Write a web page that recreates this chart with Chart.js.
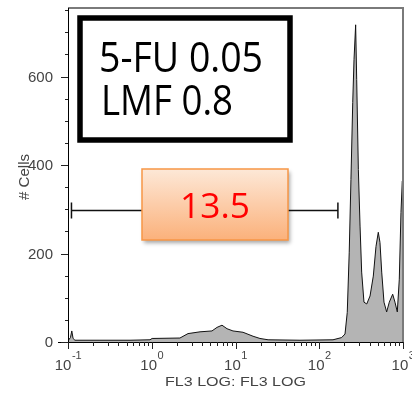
<!DOCTYPE html>
<html><head><meta charset="utf-8">
<script src="https://cdn.jsdelivr.net/npm/chart.js@4/dist/chart.umd.min.js"></script>
<style>html,body{margin:0;padding:0;background:#fff;}canvas{display:block;}</style>
</head><body>
<canvas id="c" width="412" height="394"></canvas>
<script>
// FL3 LOG channel values (x) and cell counts (y)
const fl3 = [0.1, 0.107, 0.111, 0.115, 0.121, 0.241, 0.55, 0.953, 1.01, 2.17, 2.71, 3.77, 5.24, 6.01, 6.9, 7.92, 9.33, 12.3, 16.2, 19.6, 24.5, 58.9, 146, 185, 203, 216, 228, 239, 251, 260, 272, 280, 293, 307, 321, 342, 369, 404, 442, 476, 507, 531, 557, 593, 638, 686, 753, 802, 855, 903, 946, 980, 1000];
const cells = [3, 10, 25, 8, 4, 4, 4, 5, 8, 9, 19, 23, 25, 33, 38, 30, 25, 22, 13, 8, 5, 4, 5, 10, 18, 67, 203, 367, 541, 638, 717, 593, 390, 262, 158, 90, 86, 104, 149, 216, 248, 225, 158, 90, 68, 90, 108, 90, 68, 142, 293, 363, 360];
const yTicks = [0, 200, 400, 600];
const yMinorStep = 50;
const yMax = 755;
const xDecades = [0.1, 1, 10, 100, 1000];
const xTickBase = ['10', '10', '10', '10', '10'];
const xTickExp = ['-1', '0', '1', '2', '3'];
const xTitle = 'FL3 LOG: FL3 LOG';
const yTitle = '# Cells';
const gateRange = [0.11, 167];
const gateLevel = 298;
const gateLabel = '13.5';
const sampleLines = ['5-FU 0.05', 'LMF 0.8'];

function fitText(ctx, txt, x, y, font, width, align) {
  ctx.save();
  ctx.font = font;
  const w = ctx.measureText(txt).width;
  const s = width ? width / w : 1;
  ctx.translate(x, y);
  ctx.scale(s, 1);
  let dx = 0;
  if (align === 'center') dx = -w / 2; else if (align === 'right') dx = -w;
  ctx.textAlign = 'left';
  ctx.fillText(txt, dx, 0);
  ctx.restore();
}

const decor = {
  id: 'decor',
  afterDatasetsDraw(chart) {
    const ctx = chart.ctx, xs = chart.scales.x, ys = chart.scales.y, a = chart.chartArea;
    ctx.save();
    // frame top & right
    ctx.strokeStyle = '#7a7a7a'; ctx.lineWidth = 2;
    ctx.beginPath(); ctx.moveTo(a.left, a.top); ctx.lineTo(a.right, a.top); ctx.lineTo(a.right, a.bottom); ctx.stroke();
    // axes
    ctx.strokeStyle = '#000'; ctx.lineWidth = 1;
    ctx.beginPath();
    ctx.moveTo(a.left + 0.5, a.top); ctx.lineTo(a.left + 0.5, a.bottom + 7);
    ctx.moveTo(a.left - 10, a.bottom + 0.5); ctx.lineTo(a.right, a.bottom + 0.5);
    ctx.stroke();
    // y ticks
    ctx.strokeStyle = '#222';
    ctx.beginPath();
    for (let v = 0; v <= yMax; v += yMinorStep) {
      const py = Math.round(ys.getPixelForValue(v)) + 0.5;
      const major = yTicks.includes(v);
      ctx.moveTo(a.left - (major ? 7 : 3), py); ctx.lineTo(a.left, py);
    }
    ctx.stroke();
    ctx.fillStyle = '#444'; ctx.textBaseline = 'middle';
    yTicks.forEach(v => {
      const py = ys.getPixelForValue(v);
      ctx.font = '15px "Liberation Sans", Arial, sans-serif';
      ctx.textAlign = 'right';
      ctx.fillText(String(v), a.left - 15, py + 1);
    });
    // x ticks
    ctx.beginPath();
    xDecades.forEach((d, i) => {
      const px = Math.round(xs.getPixelForValue(d)) + 0.5;
      ctx.moveTo(px, a.bottom); ctx.lineTo(px, a.bottom + 7);
      if (i < xDecades.length - 1) {
        for (let m = 2; m <= 9; m++) {
          const qx = Math.round(xs.getPixelForValue(d * m)) + 0.5;
          ctx.moveTo(qx, a.bottom); ctx.lineTo(qx, a.bottom + 4);
        }
      }
    });
    ctx.stroke();
    ctx.textBaseline = 'alphabetic';
    xDecades.forEach((d, i) => {
      const px = xs.getPixelForValue(d);
      ctx.font = '15px "Liberation Sans", Arial, sans-serif';
      const wb = ctx.measureText(xTickBase[i]).width;
      ctx.font = '11px "Liberation Sans", Arial, sans-serif';
      const we = ctx.measureText(xTickExp[i]).width;
      const x0 = px - (wb + we) / 2;
      ctx.font = '15px "Liberation Sans", Arial, sans-serif';
      ctx.textAlign = 'left';
      ctx.fillText(xTickBase[i], x0, 370);
      ctx.font = '11px "Liberation Sans", Arial, sans-serif';
      ctx.fillText(xTickExp[i], x0 + wb + 0.5, 359);
    });
    // axis titles
    ctx.fillStyle = '#444';
    fitText(ctx, xTitle, (a.left + a.right) / 2, 386, '13px "Liberation Sans", Arial, sans-serif', 141, 'center');
    ctx.save();
    ctx.translate(29, 177); ctx.rotate(-Math.PI / 2);
    fitText(ctx, yTitle, 0, 0, '14px "Liberation Sans", Arial, sans-serif', 46, 'center');
    ctx.restore();
    // gate
    const gy = Math.round(ys.getPixelForValue(gateLevel)) + 0.5;
    const g1 = xs.getPixelForValue(gateRange[0]), g2 = xs.getPixelForValue(gateRange[1]);
    ctx.strokeStyle = '#111'; ctx.lineWidth = 1.5;
    ctx.beginPath();
    ctx.moveTo(g1, gy); ctx.lineTo(g2, gy);
    ctx.moveTo(g1, gy - 8); ctx.lineTo(g1, gy + 8);
    ctx.moveTo(g2, gy - 8); ctx.lineTo(g2, gy + 8);
    ctx.stroke();
    // gate label box
    const bx = 142, by = 169, bw = 146, bh = 71;
    ctx.save();
    ctx.shadowColor = 'rgba(0,0,0,0.35)'; ctx.shadowBlur = 4; ctx.shadowOffsetX = 2; ctx.shadowOffsetY = 3;
    const gr = ctx.createLinearGradient(0, by, 0, by + bh);
    gr.addColorStop(0, '#fde8d7'); gr.addColorStop(1, '#fbb17b');
    ctx.fillStyle = gr; ctx.fillRect(bx, by, bw, bh);
    ctx.restore();
    ctx.strokeStyle = '#f79646'; ctx.lineWidth = 1.5;
    ctx.strokeRect(bx, by, bw, bh);
    ctx.fillStyle = '#ff0000';
    fitText(ctx, gateLabel, bx + bw / 2, 218, '35px "Open Sans", sans-serif', 70, 'center');
    // sample box
    ctx.fillStyle = '#fff';
    ctx.fillRect(80, 18, 210, 122);
    ctx.strokeStyle = '#000'; ctx.lineWidth = 5.5;
    ctx.strokeRect(80, 18, 210, 122);
    ctx.fillStyle = '#000';
    fitText(ctx, sampleLines[0], 99, 72, '42px "Open Sans", sans-serif', 164, 'left');
    fitText(ctx, sampleLines[1], 101, 115, '42px "Open Sans", sans-serif', 132, 'left');
    ctx.restore();
  }
};

new Chart(document.getElementById('c'), {
  type: 'line',
  data: {
    datasets: [{
      data: fl3.map((x, i) => ({ x: x, y: cells[i] })),
      borderColor: '#111',
      borderWidth: 1,
      backgroundColor: '#b4b4b4',
      fill: 'origin',
      pointRadius: 0,
      tension: 0
    }]
  },
  options: {
    responsive: false,
    animation: false,
    layout: { padding: { left: 68, right: 9, top: 8, bottom: 52 } },
    plugins: { legend: { display: false }, tooltip: { enabled: false } },
    scales: {
      x: { type: 'logarithmic', min: 0.1, max: 1000, display: false },
      y: { type: 'linear', min: 0, max: yMax, display: false }
    }
  },
  plugins: [decor]
});
</script>
</body></html>
